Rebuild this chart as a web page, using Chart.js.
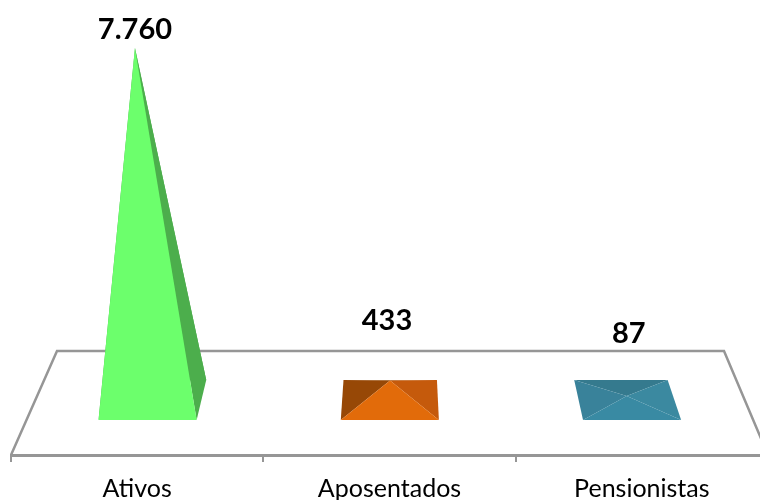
<!DOCTYPE html>
<html lang="pt-BR">
<head>
<meta charset="utf-8">
<title>Ativos, Aposentados e Pensionistas</title>
<script src="https://cdn.jsdelivr.net/npm/chart.js@4"></script>
<style>
  html, body { margin: 0; padding: 0; background: #fff; overflow: hidden; }
  canvas { display: block; }
</style>
</head>
<body>
<canvas id="grafico" width="780" height="500"></canvas>
<script>
const categorias = ["Ativos", "Aposentados", "Pensionistas"];
const valores = [7760, 433, 87];
const rotulos = ["7.760", "433", "87"];

// faces: fundo, esquerda, direita, frente
const cores = [
  ["#4cae4c", "#4cae4c", "#4cae4c", "#6cff6c"],
  ["#8a4606", "#974806", "#c55a0c", "#e26b0a"],
  ["#357a8e", "#39829a", "#3b89a0", "#398aa3"]
];
const deslocRotulo = [[0, 18], [-3, 60], [2, 62]];

const corLinha = "#969696";
const profundidade = 20;

// chao em perspectiva: d = 0 na frente (eixo), d = 1 no fundo
function pontoChao(area, u, y) {
  const d = (area.bottom - y) / 104;
  const esq = area.left + 46 * d;
  const dir = area.right - 44 * d;
  return [esq + (dir - esq) * u, y];
}

function poligono(ctx, pontos, cor) {
  ctx.fillStyle = cor;
  ctx.beginPath();
  pontos.forEach((p, i) => (i ? ctx.lineTo(p[0], p[1]) : ctx.moveTo(p[0], p[1])));
  ctx.closePath();
  ctx.fill();
}

const piramides = {
  id: "piramides",
  beforeDatasetsDraw(chart) {
    const { ctx, chartArea: a } = chart;
    ctx.save();
    ctx.strokeStyle = corLinha;
    ctx.lineWidth = 2.5;
    ctx.beginPath();
    ctx.moveTo(a.left, a.bottom);
    ctx.lineTo(a.left + 46, a.bottom - 104);
    ctx.lineTo(a.right - 44, a.bottom - 104);
    ctx.lineTo(a.right, a.bottom);
    ctx.stroke();
    ctx.restore();
  },
  afterDatasetsDraw(chart) {
    const { ctx, chartArea: a } = chart;
    const centro = (a.left + a.right) / 2;
    ctx.save();
    chart.getDatasetMeta(0).data.forEach((bar, i) => {
      const u = (bar.x - a.left) / a.width;
      const meia = bar.width / 2 / a.width;
      const frente = bar.base + profundidade;
      const fundo = bar.base - profundidade;
      const fe = pontoChao(a, u - meia, frente);
      const fd = pontoChao(a, u + meia, frente);
      const te = pontoChao(a, u - meia, fundo);
      const td = pontoChao(a, u + meia, fundo);
      const meio = (fe[0] + fd[0] + te[0] + td[0]) / 4;
      // pontas altas inclinam para fora do centro
      const altura = bar.base - bar.y;
      const topo = [meio + (meio - centro) * 0.000224 * altura, bar.y];
      const c = cores[i];
      poligono(ctx, [te, td, topo], c[0]);
      poligono(ctx, [fe, te, topo], c[1]);
      poligono(ctx, [fd, td, topo], c[2]);
      poligono(ctx, [fe, fd, topo], c[3]);

      ctx.fillStyle = "#000";
      ctx.font = "bold 29px Lato";
      ctx.textAlign = "center";
      ctx.textBaseline = "middle";
      ctx.fillText(rotulos[i], topo[0] + deslocRotulo[i][0], topo[1] - deslocRotulo[i][1]);
    });
    ctx.restore();
  }
};

new Chart(document.getElementById("grafico"), {
  type: "bar",
  data: {
    labels: categorias,
    datasets: [{
      data: valores,
      backgroundColor: "transparent",
      categoryPercentage: 1,
      barPercentage: 0.405
    }]
  },
  options: {
    responsive: false,
    animation: false,
    layout: { padding: { top: 48, left: 11, right: 12, bottom: 0 } },
    plugins: { legend: { display: false }, tooltip: { enabled: false } },
    scales: {
      x: {
        afterFit(scale) { scale.height = 45; },
        border: { color: corLinha, width: 3 },
        grid: { drawOnChartArea: false, color: corLinha, lineWidth: 2, tickLength: 7 },
        ticks: { color: "#000", font: { family: "Lato", size: 25 }, padding: 12, maxRotation: 0 }
      },
      y: { display: false, min: -1212, max: 7760 }
    }
  },
  plugins: [piramides]
});
</script>
</body>
</html>
